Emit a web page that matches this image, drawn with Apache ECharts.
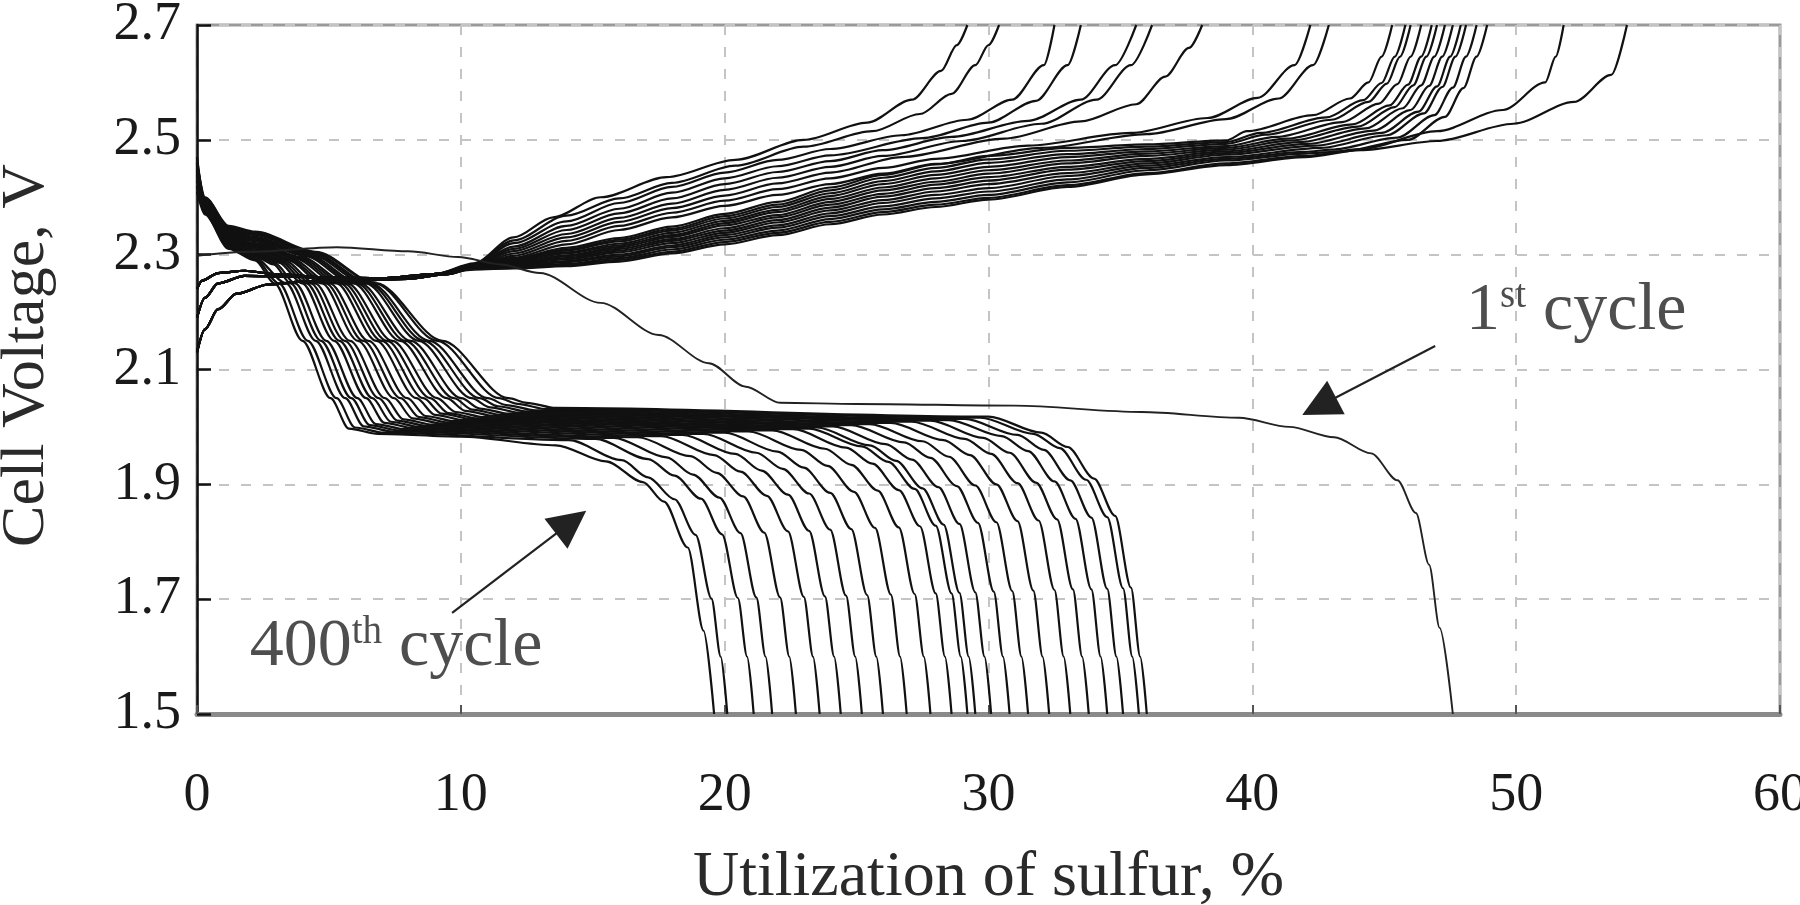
<!DOCTYPE html>
<html>
<head>
<meta charset="utf-8">
<script src="https://cdn.jsdelivr.net/npm/echarts/dist/echarts.min.js"></script>
<style>html,body{margin:0;padding:0;background:#fff}#chart{width:1800px;height:905px}</style>
</head>
<body>
<div id="chart"></div>
<script>
// ---------- axis ticks / labels ----------
const xTickValues = [0, 10, 20, 30, 40, 50, 60];
const yTickValues = [1.5, 1.7, 1.9, 2.1, 2.3, 2.5, 2.7];
const xTitle = 'Utilization of sulfur, %';
const yTitle = 'Cell Voltage, V';

// ---------- discharge curves (later cycles), [utilization %, voltage V] ----------
const dischargeCurves = [
[[0,2.41],[0.3,2.37],[1.2,2.31],[2.2,2.29],[2.94,2.25],[4.0,2.15],[5.06,2.05],[5.76,1.997],[6.86,1.988],[10,1.983],[13.6,1.968],[15.5,1.94],[16.9,1.904],[17.7,1.87],[18.6,1.79],[19.2,1.645],[19.6,1.5]],
[[0,2.44],[0.3,2.371],[1.2,2.312],[2.2,2.292],[3.11,2.25],[4.2,2.15],[5.29,2.05],[5.99,1.999],[7.09,1.99],[14.1,1.977],[16.1,1.942],[17.1,1.912],[18.1,1.874],[18.9,1.812],[19.5,1.701],[19.85,1.6],[20.1,1.5]],
[[0,2.42],[0.3,2.373],[1.2,2.313],[2.2,2.294],[3.38,2.25],[4.5,2.15],[5.62,2.05],[6.32,2.001],[7.42,1.992],[15.1,1.979],[17.1,1.944],[18.1,1.915],[19.1,1.875],[19.9,1.813],[20.5,1.702],[20.85,1.6],[21.1,1.5]],
[[0,2.46],[0.3,2.374],[1.2,2.315],[2.2,2.297],[2.9,2.283],[3.55,2.25],[4.7,2.15],[5.85,2.05],[6.55,2.003],[7.65,1.994],[15.8,1.981],[17.8,1.947],[18.8,1.917],[19.8,1.877],[20.6,1.815],[21.2,1.703],[21.55,1.6],[21.8,1.5]],
[[0,2.43],[0.3,2.375],[1.2,2.317],[2.2,2.299],[2.96,2.285],[3.72,2.25],[4.9,2.15],[6.08,2.05],[6.78,2.005],[7.88,1.996],[16.7,1.982],[18.7,1.949],[19.7,1.92],[20.7,1.879],[21.5,1.816],[22.1,1.703],[22.45,1.6],[22.7,1.5]],
[[0,2.45],[0.3,2.377],[1.2,2.319],[2.2,2.301],[3.1,2.286],[3.99,2.25],[5.2,2.15],[6.41,2.05],[7.11,2.007],[8.21,1.998],[17.6,1.984],[19.6,1.951],[20.6,1.922],[21.6,1.88],[22.4,1.818],[23.0,1.704],[23.35,1.6],[23.6,1.5]],
[[0,2.42],[0.3,2.378],[1.2,2.32],[2.2,2.303],[3.18,2.287],[4.15,2.25],[5.4,2.15],[6.65,2.05],[7.35,2.009],[8.45,2.0],[18.4,1.986],[20.4,1.953],[21.4,1.924],[22.4,1.882],[23.2,1.819],[23.8,1.705],[24.15,1.6],[24.4,1.5]],
[[0,2.47],[0.3,2.379],[1.2,2.322],[2.2,2.305],[3.26,2.288],[4.31,2.25],[5.6,2.15],[6.89,2.05],[7.59,2.011],[8.69,2.002],[19.2,1.988],[21.2,1.955],[22.2,1.927],[23.2,1.884],[24.0,1.821],[24.6,1.706],[24.95,1.6],[25.2,1.5]],
[[0,2.43],[0.3,2.38],[1.2,2.324],[2.2,2.307],[3.34,2.289],[4.47,2.25],[5.8,2.15],[7.13,2.05],[7.83,2.013],[8.93,2.004],[20.0,1.99],[22.0,1.957],[23.0,1.929],[24.0,1.885],[24.8,1.822],[25.4,1.707],[25.75,1.6],[26.0,1.5]],
[[0,2.45],[0.3,2.382],[1.2,2.326],[2.2,2.31],[3.47,2.29],[4.73,2.25],[6.1,2.15],[7.47,2.05],[8.17,2.015],[9.27,2.006],[20.9,1.992],[22.9,1.96],[23.9,1.932],[24.9,1.887],[25.7,1.824],[26.3,1.708],[26.65,1.6],[26.9,1.5]],
[[0,2.41],[0.3,2.383],[1.2,2.327],[2.2,2.312],[3.54,2.291],[4.88,2.25],[6.3,2.15],[7.72,2.05],[8.42,2.017],[9.52,2.008],[21.8,1.994],[23.8,1.962],[24.8,1.934],[25.8,1.889],[26.6,1.825],[27.2,1.709],[27.55,1.6],[27.8,1.5]],
[[0,2.44],[0.3,2.384],[1.2,2.329],[2.2,2.314],[3.62,2.292],[5.03,2.25],[6.5,2.15],[7.97,2.05],[8.67,2.019],[9.77,2.01],[22.6,1.996],[24.6,1.964],[25.6,1.936],[26.6,1.89],[27.4,1.827],[28.0,1.71],[28.35,1.6],[28.6,1.5]],
[[0,2.46],[0.3,2.386],[1.2,2.331],[2.2,2.316],[3.74,2.293],[5.28,2.25],[6.8,2.15],[8.32,2.05],[9.02,2.021],[10.12,2.012],[23.2,1.997],[25.2,1.966],[26.2,1.939],[27.2,1.892],[28.0,1.828],[28.6,1.71],[28.95,1.6],[29.2,1.5]],
[[0,2.42],[0.3,2.387],[1.2,2.333],[2.2,2.318],[3.81,2.294],[5.42,2.25],[7.0,2.15],[8.58,2.05],[9.28,2.023],[10.38,2.014],[23.5,1.999],[25.5,1.968],[26.5,1.941],[27.5,1.893],[28.3,1.83],[28.9,1.711],[29.25,1.6],[29.5,1.5]],
[[0,2.44],[0.3,2.388],[1.2,2.334],[2.2,2.32],[3.88,2.295],[5.56,2.25],[7.2,2.15],[8.84,2.05],[9.54,2.024],[10.64,2.015],[24.1,2.001],[26.1,1.97],[27.1,1.943],[28.1,1.895],[28.9,1.831],[29.5,1.712],[29.85,1.6],[30.1,1.5]],
[[0,2.47],[0.3,2.39],[1.2,2.336],[2.2,2.323],[3.95,2.296],[5.7,2.25],[7.4,2.15],[9.1,2.05],[9.8,2.026],[10.9,2.017],[24.8,2.003],[26.8,1.973],[27.8,1.946],[28.8,1.897],[29.6,1.833],[30.2,1.713],[30.55,1.6],[30.8,1.5]],
[[0,2.43],[0.3,2.391],[1.2,2.338],[2.2,2.325],[4.07,2.298],[5.93,2.25],[7.7,2.15],[9.47,2.05],[10.17,2.028],[11.27,2.019],[25.5,2.005],[27.5,1.975],[28.5,1.948],[29.5,1.898],[30.3,1.834],[30.9,1.714],[31.25,1.6],[31.5,1.5]],
[[0,2.45],[0.3,2.392],[1.2,2.34],[2.2,2.327],[4.13,2.299],[6.06,2.25],[7.9,2.15],[9.74,2.05],[10.44,2.03],[11.54,2.021],[26.3,2.007],[28.3,1.977],[29.3,1.951],[30.3,1.9],[31.1,1.836],[31.7,1.715],[32.05,1.6],[32.3,1.5]],
[[0,2.41],[0.3,2.394],[1.2,2.341],[2.2,2.329],[4.19,2.3],[6.18,2.25],[8.1,2.15],[10.02,2.05],[10.72,2.032],[11.82,2.023],[27.1,2.009],[29.1,1.979],[30.1,1.953],[31.1,1.902],[31.9,1.837],[32.5,1.716],[32.85,1.6],[33.1,1.5]],
[[0,2.46],[0.3,2.395],[1.2,2.343],[2.2,2.331],[4.3,2.3],[6.39,2.25],[8.4,2.15],[10.41,2.05],[11.11,2.034],[12.21,2.025],[27.8,2.011],[29.8,1.981],[30.8,1.955],[31.8,1.903],[32.6,1.839],[33.2,1.717],[33.55,1.6],[33.8,1.5]],
[[0,2.44],[0.3,2.396],[1.2,2.345],[2.2,2.334],[4.35,2.302],[6.49,2.25],[8.6,2.15],[10.71,2.05],[11.41,2.036],[12.51,2.027],[28.5,2.012],[30.5,1.984],[31.5,1.958],[32.5,1.905],[33.3,1.84],[33.9,1.717],[34.25,1.6],[34.5,1.5]],
[[0,2.42],[0.3,2.397],[1.2,2.347],[2.2,2.336],[4.39,2.303],[6.58,2.25],[8.8,2.15],[11.02,2.05],[11.72,2.038],[12.82,2.029],[29.1,2.014],[31.1,1.986],[32.1,1.96],[33.1,1.907],[33.9,1.842],[34.5,1.718],[34.85,1.6],[35.1,1.5]],
[[0,2.45],[0.3,2.399],[1.2,2.348],[2.2,2.338],[4.48,2.304],[6.75,2.25],[9.1,2.15],[11.45,2.05],[12.15,2.04],[13.25,2.031],[29.7,2.016],[31.7,1.988],[32.7,1.963],[33.7,1.908],[34.5,1.843],[35.1,1.719],[35.45,1.6],[35.7,1.5]],
[[0,2.46],[0.3,2.4],[1.2,2.35],[2.2,2.34],[4.5,2.305],[6.8,2.25],[9.3,2.15],[11.8,2.05],[12.5,2.042],[13.6,2.033],[30.0,2.018],[32.0,1.99],[33.0,1.965],[34.0,1.91],[34.8,1.845],[35.4,1.72],[35.75,1.6],[36.0,1.5]]
];

// ---------- 1st cycle discharge ----------
const firstDischarge = [[0,2.298],[2,2.305],[5.3,2.313],[8,2.306],[9.9,2.296],[11.5,2.283],[13.0,2.268],[15.3,2.216],[17.5,2.16],[19.4,2.111],[20.8,2.07],[22.1,2.042],[25,2.04],[31,2.037],[35.8,2.026],[39.5,2.016],[41.4,2.0],[43.1,1.982],[44.5,1.954],[45.5,1.907],[46.2,1.85],[46.7,1.76],[47.1,1.65],[47.6,1.5]];

// ---------- charge curves: start of charge (three observed shapes) ----------
const chargeStartFast = [[0,2.24],[0.2,2.255],[0.8,2.268],[1.8,2.272],[3,2.266],[5,2.26],[7,2.259],[9,2.266]];
const chargeStartSlow = [[0,2.13],[0.3,2.17],[0.8,2.205],[1.5,2.232],[2.7,2.248],[4,2.253],[6,2.255],[8,2.258],[9.5,2.266]];
const chargeStartMid  = [[0,2.19],[0.3,2.225],[0.8,2.25],[1.8,2.263],[3.5,2.262],[5.5,2.257],[7.5,2.258],[9.2,2.267]];

// ---------- charge curves: rest of each curve ----------
const chargeCurves = [
 ['fast', [[10.5,2.285],[12,2.33],[13.5,2.365],[15.3,2.4],[17.8,2.435],[20.4,2.465],[23,2.5],[25.4,2.53],[27.1,2.57],[28.2,2.62],[28.8,2.665],[29.2,2.7]]],
 ['slow', [[10.5,2.284],[12,2.325],[14,2.368],[16,2.398],[18,2.425],[20.4,2.455],[23,2.488],[25.6,2.515],[27.4,2.545],[28.6,2.58],[29.5,2.63],[30.0,2.665],[30.4,2.7]]],
 ['mid',  [[10.5,2.283],[12,2.32],[14,2.358],[16,2.39],[18,2.418],[20,2.443],[22,2.465],[24,2.484],[26.7,2.508],[29.2,2.535],[30.9,2.57],[32.1,2.63],[32.5,2.7]]],
 ['fast', [[10.5,2.283],[12,2.314],[14,2.35],[16,2.38],[18,2.408],[20,2.433],[22,2.454],[24,2.473],[27.5,2.503],[30,2.53],[31.8,2.568],[33.0,2.63],[33.5,2.7]]],
 ['slow', [[10.5,2.282],[12,2.31],[14,2.343],[16,2.372],[18,2.398],[20,2.423],[22,2.444],[24,2.463],[26,2.482],[28.6,2.505],[31.5,2.533],[33.5,2.57],[34.8,2.63],[35.6,2.7]]],
 ['mid',  [[10.5,2.281],[12,2.306],[14,2.336],[16,2.364],[18,2.389],[20,2.413],[22,2.434],[24,2.453],[26,2.472],[29,2.498],[32,2.528],[34.1,2.57],[35.4,2.63],[36.2,2.7]]],
 ['fast', [[10.5,2.28],[12,2.302],[14,2.33],[16,2.357],[18,2.381],[20,2.403],[22,2.424],[24,2.443],[26.7,2.47],[30.6,2.502],[33.5,2.532],[35.6,2.562],[36.7,2.61],[37.6,2.66],[38.1,2.7]]],
 ['slow', [[10.5,2.28],[12,2.298],[14,2.324],[16,2.35],[18,2.373],[20,2.394],[22,2.414],[24,2.433],[26,2.451],[28,2.467],[31.5,2.49],[35.4,2.512],[38.3,2.538],[40.2,2.573],[41.6,2.63],[42.2,2.7]]],
 ['mid',  [[10.5,2.279],[12,2.295],[14,2.318],[16,2.343],[18,2.365],[20,2.385],[22,2.404],[24,2.423],[26,2.441],[28,2.458],[32,2.486],[36,2.51],[39,2.536],[41,2.572],[42.3,2.63],[42.9,2.7]]],
 ['fast', [[10.5,2.279],[12,2.293],[14,2.312],[16,2.329],[18,2.349],[20,2.371],[22,2.392],[24,2.417],[26,2.439],[28,2.457],[30,2.472],[33,2.486],[36,2.492],[39,2.499],[39.8,2.515],[42.3,2.543],[43.7,2.572],[44.4,2.6],[44.9,2.645],[45.3,2.7]]],
 ['slow', [[10.5,2.279],[12,2.292],[14,2.309],[16,2.326],[18,2.345],[20,2.367],[22,2.387],[24,2.412],[26,2.434],[28,2.451],[30,2.466],[33,2.481],[36,2.488],[39,2.496],[40.3,2.512],[42.8,2.539],[44.2,2.569],[44.9,2.599],[45.4,2.645],[45.8,2.7]]],
 ['mid',  [[10.5,2.278],[12,2.29],[14,2.307],[16,2.323],[18,2.342],[20,2.363],[22,2.383],[24,2.407],[26,2.428],[28,2.445],[30,2.46],[33,2.475],[36,2.484],[39,2.493],[40.5,2.509],[43.0,2.535],[44.4,2.566],[45.1,2.598],[45.6,2.645],[46.0,2.7]]],
 ['fast', [[10.5,2.278],[12,2.289],[14,2.304],[16,2.319],[18,2.338],[20,2.359],[22,2.378],[24,2.402],[26,2.423],[28,2.439],[30,2.453],[33,2.47],[36,2.48],[39,2.489],[40.9,2.505],[43.4,2.531],[44.8,2.563],[45.5,2.597],[46.0,2.645],[46.4,2.7]]],
 ['slow', [[10.5,2.278],[12,2.288],[14,2.302],[16,2.316],[18,2.334],[20,2.355],[22,2.374],[24,2.397],[26,2.417],[28,2.433],[30,2.447],[33,2.464],[36,2.476],[39,2.486],[41.3,2.502],[43.8,2.527],[45.2,2.56],[45.9,2.596],[46.4,2.645],[46.8,2.7]]],
 ['mid',  [[10.5,2.277],[12,2.286],[14,2.299],[16,2.313],[18,2.331],[20,2.351],[22,2.369],[24,2.392],[26,2.412],[28,2.427],[30,2.441],[33,2.459],[36,2.472],[39,2.483],[41.5,2.499],[44.0,2.523],[45.4,2.557],[46.1,2.595],[46.6,2.645],[47.0,2.7]]],
 ['fast', [[10.5,2.277],[12,2.285],[14,2.297],[16,2.31],[18,2.327],[20,2.346],[22,2.365],[24,2.387],[26,2.406],[28,2.422],[30,2.435],[33,2.453],[36,2.467],[39,2.48],[41.8,2.496],[44.3,2.52],[45.7,2.555],[46.4,2.595],[46.9,2.645],[47.3,2.7]]],
 ['slow', [[10.5,2.277],[12,2.283],[14,2.294],[16,2.307],[18,2.324],[20,2.342],[22,2.36],[24,2.382],[26,2.401],[28,2.416],[30,2.429],[33,2.448],[36,2.463],[39,2.477],[42.1,2.493],[44.6,2.516],[46.0,2.552],[46.7,2.594],[47.2,2.645],[47.6,2.7]]],
 ['mid',  [[10.5,2.276],[12,2.282],[14,2.292],[16,2.304],[18,2.32],[20,2.338],[22,2.356],[24,2.377],[26,2.395],[28,2.41],[30,2.423],[33,2.442],[36,2.459],[39,2.474],[42.4,2.49],[44.9,2.512],[46.3,2.549],[47.0,2.593],[47.5,2.645],[47.9,2.7]]],
 ['fast', [[10.5,2.276],[12,2.281],[14,2.289],[16,2.3],[18,2.316],[20,2.334],[22,2.351],[24,2.372],[26,2.39],[28,2.404],[30,2.416],[33,2.437],[36,2.455],[39,2.47],[42.6,2.486],[45.1,2.508],[46.5,2.546],[47.2,2.592],[47.7,2.645],[48.1,2.7]]],
 ['slow', [[10.5,2.276],[12,2.279],[14,2.287],[16,2.297],[18,2.313],[20,2.33],[22,2.347],[24,2.367],[26,2.384],[28,2.398],[30,2.41],[33,2.431],[36,2.451],[39,2.467],[42,2.479],[43.0,2.483],[45.5,2.504],[46.9,2.543],[47.6,2.591],[48.1,2.645],[48.5,2.7]]],
 ['mid',  [[10.5,2.275],[12,2.278],[14,2.284],[16,2.294],[18,2.309],[20,2.326],[22,2.342],[24,2.362],[26,2.379],[28,2.392],[30,2.404],[33,2.426],[36,2.447],[39,2.464],[42,2.476],[43.4,2.48],[45.9,2.5],[47.3,2.54],[48.0,2.59],[48.5,2.645],[48.9,2.7]]],
 ['fast', [[10.5,2.275],[12,2.277],[14,2.282],[16,2.291],[18,2.305],[20,2.322],[22,2.338],[24,2.357],[26,2.374],[28,2.387],[30,2.399],[33,2.421],[36,2.442],[39,2.459],[42,2.472],[44.1,2.484],[47,2.515],[49.5,2.552],[51.1,2.6],[51.5,2.645],[51.8,2.7]]]
];
const firstChargeRest = [[10.5,2.274],[12,2.276],[14,2.28],[16,2.288],[18,2.302],[20,2.318],[22,2.334],[24,2.353],[26,2.37],[28,2.383],[30,2.396],[33,2.418],[36,2.44],[39,2.456],[42,2.47],[44.1,2.482],[47,2.498],[49.9,2.528],[52.2,2.566],[53.6,2.613],[54.2,2.7]];

// ---------- annotations (data coordinates) ----------
const noteFirstText = [48.1, 2.202];
const noteFirstArrow = [[46.93, 2.141], [42.53, 2.036]];
const noteLastText = [2.0, 1.617];
const noteLastArrow = [[9.67, 1.676], [14.18, 1.834]];

// ---------- build chart ----------
const FONT = 'Liberation Serif, Times New Roman, serif';
const startShapes = {fast: chargeStartFast, slow: chargeStartSlow, mid: chargeStartMid};
const curveStyle = {color: '#111', width: 2.2};

function curveSeries(data, style) {
  return {type: 'line', data: data, showSymbol: false, symbol: 'none', smooth: 0.3, smoothMonotone: 'x',
          lineStyle: style || curveStyle, silent: true, animation: false, z: 3, clip: true};
}

const series = [];
dischargeCurves.forEach(d => series.push(curveSeries(d)));
chargeCurves.forEach(c => series.push(curveSeries(startShapes[c[0]].concat(c[1]))));
series.push(curveSeries(chargeStartMid.concat(firstChargeRest)));
series.push(curveSeries(firstDischarge, {color: '#222', width: 1.9}));

// arrows
series.push({
  type: 'line', data: [], silent: true, animation: false, z: 5,
  markLine: {
    silent: true, animation: false, symbol: ['none', 'triangle'], symbolSize: 38,
    label: {show: false}, emphasis: {disabled: true},
    itemStyle: {color: '#111'},
    lineStyle: {color: '#222', width: 2.2, type: 'solid'},
    data: [
      [{coord: noteFirstArrow[0]}, {coord: noteFirstArrow[1]}],
      [{coord: noteLastArrow[0]}, {coord: noteLastArrow[1]}]
    ]
  }
});

function noteSeries(pos, main, sup, rest) {
  return {
    type: 'scatter', data: [pos], symbolSize: 0, silent: true, animation: false, z: 6,
    label: {
      show: true, position: 'right', distance: 0,
      formatter: '{n|' + main + '}{s|' + sup + '}{n|' + rest + '}',
      rich: {
        n: {fontFamily: FONT, fontSize: 68, color: '#222', lineHeight: 68},
        s: {fontFamily: FONT, fontSize: 39, color: '#222', lineHeight: 39, verticalAlign: 'top'}
      }
    }
  };
}
series.push(noteSeries(noteFirstText, '1', 'st', ' cycle'));
series.push(noteSeries(noteLastText, '400', 'th', ' cycle'));

const gridDash = {color: '#c4c4c4', width: 2, type: [10, 12]};

const chart = echarts.init(document.getElementById('chart'), null, {renderer: 'canvas'});
chart.setOption({
  backgroundColor: '#ffffff',
  animation: false,
  grid: {left: 197, right: 20, top: 25, bottom: 191, containLabel: false, outerBoundsMode: 'none',
         show: true, borderColor: '#9a9a9a', borderWidth: 3, backgroundColor: 'transparent'},
  xAxis: {
    type: 'value', min: xTickValues[0], max: xTickValues[xTickValues.length - 1], interval: xTickValues[1] - xTickValues[0],
    name: xTitle, nameLocation: 'middle', nameGap: 132,
    nameTextStyle: {fontFamily: FONT, fontSize: 64, color: '#2a2a2a'},
    axisLine: {show: true, onZero: false, lineStyle: {color: '#8a8a8a', width: 5}},
    axisTick: {show: true, inside: true, length: 9, lineStyle: {color: '#555', width: 2}},
    axisLabel: {fontFamily: FONT, fontSize: 54, color: '#1a1a1a', margin: 55},
    splitLine: {show: true, lineStyle: gridDash}
  },
  yAxis: {
    type: 'value', min: yTickValues[0], max: yTickValues[yTickValues.length - 1], interval: 0.2,
    name: yTitle, nameLocation: 'middle', nameGap: 139, nameRotate: 90,
    nameTextStyle: {fontFamily: FONT, fontSize: 62, color: '#2a2a2a', padding: [0, 0, 0, 28]},
    axisLine: {show: true, onZero: false, lineStyle: {color: '#111', width: 2.5}},
    axisTick: {show: true, inside: true, length: 14, lineStyle: {color: '#111', width: 2.5}},
    axisLabel: {fontFamily: FONT, fontSize: 54, color: '#1a1a1a', margin: 16, formatter: v => Number(v).toFixed(1)},
    splitLine: {show: true, lineStyle: gridDash}
  },
  series: series
});
</script>
</body>
</html>
